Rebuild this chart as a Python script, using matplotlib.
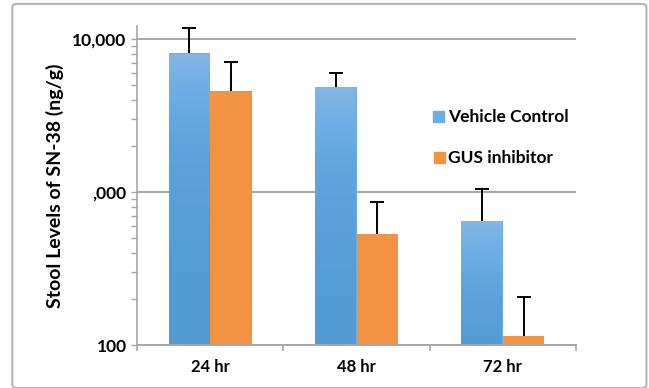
import numpy as np
from matplotlib import pyplot as plt
from matplotlib.patches import FancyBboxPatch
from matplotlib.colors import LinearSegmentedColormap
from matplotlib.ticker import LogLocator, NullFormatter

categories = ['24 hr', '48 hr', '72 hr']
vehicle = [8090, 4860, 647]
vehicle_err = [3710, 1160, 404]
gus = [4570, 531, 114]
gus_err = [2470, 330, 91]
series_names = ['Vehicle Control', 'GUS inhibitor']
ytick_vals = [100, 1000, 10000]
ytick_labels = ['100', ',000', '10,000']

plt.rcParams['font.family'] = ['Lato', 'DejaVu Sans']
plt.rcParams['font.weight'] = 'bold'

blue_cmap = LinearSegmentedColormap.from_list('b', ['#539dd7', '#6aaee4', '#87b6e3'])
orange_cmap = LinearSegmentedColormap.from_list('o', ['#f39241', '#f39241'])


def gradient_bar(ax, x, w, top, cmap):
    bar = ax.bar(x, top - 100, w, bottom=100, color=cmap(0.5), edgecolor='none',
                 linewidth=0, zorder=2)[0]
    grad = np.linspace(0, 1, 256).reshape(-1, 1)
    im = ax.imshow(grad, cmap=cmap, origin='lower', aspect='auto',
                   extent=[x - w / 2, x + w / 2, 100, top], zorder=2.5)
    im.set_clip_path(bar)
    return bar


def up_errors(ax, xs, ys, errs):
    _, caps, _ = ax.errorbar(xs, ys, yerr=[np.zeros(len(ys)), errs], fmt='none',
                             ecolor='black', elinewidth=1.4, capsize=5, capthick=1.4, zorder=4)
    caps[0].set_visible(False)


def main():
    fig = plt.figure(figsize=(6.49, 3.88), dpi=100)
    border = FancyBboxPatch((0.019, 0.0), 0.977, 0.99, boxstyle='round,pad=0,rounding_size=0.008',
                            transform=fig.transFigure, fill=False, edgecolor='#b4b4b4',
                            linewidth=1.5, clip_on=False)
    fig.patches.append(border)

    ax = fig.add_axes([137 / 649, 43 / 388, 439 / 649, 319 / 388])
    ax.set_yscale('log')
    ax.set_ylim(100, 10 ** (2 + 319 / 153))
    ax.set_xlim(0, 3)

    x = np.arange(3) + 0.5
    w = 0.284
    for i in range(3):
        gradient_bar(ax, x[i] - w / 2, w, vehicle[i], blue_cmap)
        gradient_bar(ax, x[i] + w / 2, w, gus[i], orange_cmap)
    up_errors(ax, x - w / 2, vehicle, vehicle_err)
    up_errors(ax, x + w / 2, gus, gus_err)

    for v in ytick_vals:
        ax.axhline(v, color='#a6a6a6', linewidth=1.4, zorder=1)

    ax.set_yticks(ytick_vals)
    ax.set_yticklabels(ytick_labels, fontsize=12.5, fontweight='bold')
    ax.yaxis.set_minor_locator(LogLocator(base=10, subs=np.arange(2, 10)))
    ax.yaxis.set_minor_formatter(NullFormatter())
    ax.tick_params(axis='y', which='both', direction='out', length=4, color='#a6a6a6', width=1)
    ax.set_xticks([0, 1, 2, 3])
    ax.set_xticklabels([])
    ax.set_xticks(x, minor=True)
    ax.set_xticklabels(categories, minor=True, fontsize=12, fontweight='bold')
    ax.tick_params(axis='x', which='major', direction='out', length=4, color='#a6a6a6', width=1.2)
    ax.tick_params(axis='x', which='minor', length=0, pad=10)

    for s in ['top', 'right']:
        ax.spines[s].set_visible(False)
    ax.spines['left'].set_color('#a6a6a6')
    ax.spines['bottom'].set_color('#a6a6a6')
    ax.spines['left'].set_linewidth(1.2)
    ax.spines['bottom'].set_linewidth(1.4)
    ax.spines['bottom'].set_zorder(5)
    ax.set_ylabel('Stool Levels of SN-38 (ng/g)', fontsize=14, fontweight='bold', labelpad=6)

    fig.patches.append(plt.Rectangle((433 / 649, 1 - 122 / 388), 11 / 649, 11 / 388,
                                     transform=fig.transFigure, color='#6aaee4'))
    fig.patches.append(plt.Rectangle((434 / 649, 1 - 163 / 388), 11 / 649, 11 / 388,
                                     transform=fig.transFigure, color='#f39241'))
    fig.text(448 / 649, 1 - 117 / 388, series_names[0], fontsize=12.5, fontweight='bold', va='center')
    fig.text(448 / 649, 1 - 158 / 388, series_names[1], fontsize=12.5, fontweight='bold', va='center')

    plt.savefig('out.png', dpi=100)


if __name__ == "__main__":
    main()
